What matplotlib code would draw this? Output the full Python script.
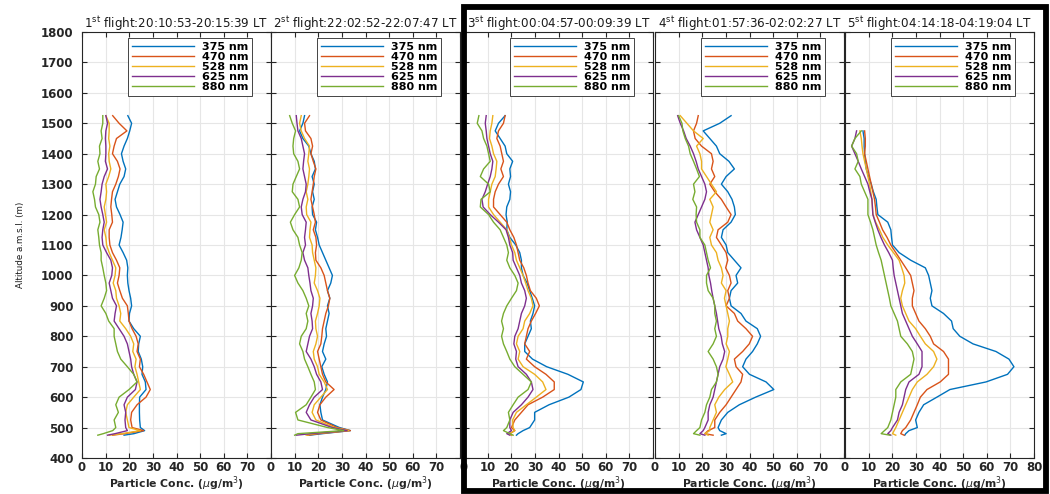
import matplotlib
matplotlib.use('Agg')
import matplotlib.pyplot as plt
from matplotlib.patches import Rectangle

# ---------------- data ----------------
wavelengths = ['375 nm', '470 nm', '528 nm', '625 nm', '880 nm']
colors = ['#0072BD', '#D95319', '#EDB120', '#7E2F8E', '#77AC30']
titles = [r'1$^{\mathrm{st}}$ flight:20:10:53-20:15:39 LT',
          r'2$^{\mathrm{st}}$ flight:22:02:52-22:07:47 LT',
          r'3$^{\mathrm{st}}$ flight:00:04:57-00:09:39 LT',
          r'4$^{\mathrm{st}}$ flight:01:57:36-02:02:27 LT',
          r'5$^{\mathrm{st}}$ flight:04:14:18-04:19:04 LT']

# altitude grid (m a.m.s.l.)
alt_a = [475, 480, 490, 500] + list(range(525, 1526, 25))   # flights 1-4
alt_5 = [475, 480, 490, 500] + list(range(525, 1476, 25))   # flight 5

p1_375 = [17.8, 22.0, 26.5, 24.7, 24.4, 24.3, 24.3, 24.4, 27.1, 26.8, 25.4, 25.7, 25.1, 23.8, 24.0, 24.7, 21.9, 19.9, 20.1, 21.0,
          20.6, 19.9, 19.4, 19.2, 19.4, 18.9, 17.4, 15.7, 16.5, 17.0, 17.4, 16.1, 14.6, 14.0, 15.0, 16.0, 17.8, 18.5, 17.4, 16.7,
          17.8, 19.2, 20.2, 21.0, 19.4]
p1_470 = [13.0, 18.0, 26.1, 21.2, 20.6, 21.0, 23.3, 27.1, 28.9, 27.5, 26.1, 24.3, 24.7, 23.3, 23.8, 22.9, 21.2, 19.9, 19.6, 19.2,
          17.1, 16.0, 15.0, 15.7, 16.0, 14.6, 12.9, 11.8, 11.5, 11.5, 12.9, 12.6, 12.2, 12.5, 12.9, 14.3, 15.4, 16.1, 15.0, 12.9,
          13.6, 14.6, 19.0, 15.7, 13.0]
p1_528 = [11.5, 17.0, 24.7, 19.9, 19.2, 18.5, 19.2, 21.9, 24.7, 24.0, 23.3, 22.4, 22.9, 21.5, 21.9, 20.6, 18.5, 16.0, 16.4, 15.7,
          14.6, 14.3, 13.2, 14.0, 14.3, 12.9, 11.5, 10.4, 10.1, 9.4, 10.4, 9.9, 9.4, 10.1, 10.4, 10.1, 11.3, 12.2, 11.5, 11.3,
          11.8, 11.3, 11.5, 11.5, 10.1]
p1_625 = [10.8, 14.0, 19.2, 18.5, 18.2, 18.5, 17.8, 19.2, 22.6, 23.3, 21.9, 21.0, 20.6, 19.9, 19.2, 17.8, 15.7, 13.6, 14.0, 14.6,
          12.9, 12.2, 11.5, 12.6, 12.9, 12.2, 10.4, 8.8, 8.5, 8.8, 9.4, 8.8, 8.1, 7.6, 8.1, 8.5, 9.4, 10.8, 9.9, 10.1,
          10.1, 9.9, 10.1, 10.8, 10.1]
p1_880 = [6.7, 9.0, 13.0, 14.3, 13.6, 15.4, 14.3, 15.7, 19.9, 23.3, 21.9, 19.2, 16.4, 15.0, 14.3, 13.6, 13.6, 11.3, 10.1, 8.1,
          9.4, 10.4, 10.1, 9.4, 8.8, 8.1, 8.1, 7.4, 7.1, 6.7, 7.6, 7.1, 5.7, 5.3, 4.6, 5.7, 6.0, 7.4, 6.7, 7.6,
          7.4, 8.5, 8.1, 8.8, 8.8]

p2_375 = [16.3, 21.8, 33.6, 29.0, 21.8, 21.1, 20.7, 21.8, 23.2, 23.9, 22.5, 21.5, 23.2, 21.8, 22.5, 23.5, 23.2, 23.9, 24.6, 23.9,
          24.9, 23.9, 25.3, 26.0, 24.6, 23.2, 21.8, 20.4, 19.7, 18.8, 19.3, 17.6, 17.4, 18.3, 17.6, 18.3, 17.4, 18.8, 18.3, 16.9,
          16.0, 13.5, 12.1, 13.5, 14.2]
p2_470 = [15.6, 20.4, 33.6, 28.0, 21.1, 19.7, 20.7, 23.2, 26.7, 23.2, 21.8, 21.1, 20.4, 19.7, 21.1, 21.5, 21.8, 22.5, 23.2, 24.3,
          24.9, 23.9, 23.2, 22.5, 21.1, 19.0, 18.8, 19.3, 19.0, 17.9, 18.8, 18.3, 17.6, 16.9, 17.4, 17.9, 18.3, 19.0, 17.9, 16.9,
          17.6, 16.9, 14.6, 14.2, 16.3]
p2_528 = [14.9, 18.3, 32.9, 27.0, 19.0, 17.4, 18.3, 21.1, 23.9, 22.5, 20.4, 19.7, 18.3, 17.9, 19.0, 19.7, 19.0, 18.8, 19.7, 20.4,
          20.7, 19.7, 18.3, 18.8, 19.0, 18.3, 17.6, 17.4, 16.3, 16.5, 16.9, 15.1, 14.9, 15.6, 14.9, 15.6, 16.0, 16.3, 15.6, 16.0,
          16.3, 14.2, 12.8, 12.1, 12.8]
p2_625 = [10.7, 16.9, 32.2, 26.0, 16.9, 14.9, 16.3, 18.3, 21.8, 21.1, 19.3, 18.3, 16.9, 14.9, 15.6, 16.3, 17.6, 17.4, 16.9, 17.6,
          17.9, 16.9, 16.5, 16.0, 15.6, 14.2, 13.5, 14.6, 14.2, 14.6, 14.9, 13.2, 12.8, 13.5, 14.6, 14.9, 14.2, 13.5, 13.8, 14.2,
          13.5, 12.8, 11.4, 11.0, 10.7]
p2_880 = [10.0, 11.4, 30.8, 24.0, 11.4, 10.4, 14.9, 16.9, 18.8, 18.3, 16.9, 15.6, 14.2, 13.5, 12.1, 12.8, 14.9, 15.6, 14.9, 16.0,
          14.9, 13.5, 11.4, 10.0, 11.8, 12.8, 13.2, 12.1, 11.4, 9.3, 8.2, 10.0, 12.1, 11.4, 9.0, 9.3, 10.7, 12.1, 11.4, 9.6,
          9.3, 9.6, 10.4, 9.0, 7.9]

p3_375 = [22.2, 22.9, 25.0, 27.8, 29.9, 29.9, 36.0, 44.4, 49.5, 50.5, 44.0, 35.0, 29.0, 25.7, 25.7, 27.1, 28.5, 28.1, 29.2, 29.9,
          28.9, 27.8, 26.7, 25.0, 24.3, 24.3, 23.6, 21.9, 19.4, 18.1, 18.3, 17.8, 18.1, 19.4, 19.7, 18.8, 19.7, 19.4, 20.6, 18.1,
          17.4, 15.3, 13.2, 14.6, 17.4]
p3_470 = [20.1, 19.4, 21.5, 20.1, 21.5, 24.3, 27.1, 33.3, 38.2, 38.2, 34.7, 29.9, 26.4, 27.8, 25.7, 26.4, 27.1, 28.5, 30.3, 31.9,
          30.6, 28.1, 27.1, 26.4, 25.3, 23.6, 22.9, 22.2, 21.1, 19.4, 18.1, 15.3, 12.5, 12.5, 13.2, 14.6, 16.7, 15.6, 16.7, 16.0,
          15.3, 13.9, 14.6, 16.7, 17.4]
p3_528 = [20.1, 19.4, 21.5, 20.8, 20.6, 22.2, 26.4, 30.6, 34.7, 33.3, 29.9, 25.0, 22.9, 23.6, 22.2, 22.9, 25.0, 25.7, 27.8, 29.2,
          28.5, 27.1, 26.1, 25.0, 23.6, 22.2, 21.5, 20.1, 19.2, 18.1, 15.3, 12.5, 10.4, 10.4, 11.1, 11.8, 13.2, 13.6, 13.9, 12.5,
          11.8, 10.8, 11.1, 11.8, 12.2]
p3_625 = [19.4, 18.1, 20.1, 19.4, 19.4, 20.8, 24.3, 27.1, 29.2, 28.5, 26.4, 22.9, 21.9, 22.2, 21.1, 21.5, 22.9, 23.6, 24.3, 25.7,
          26.4, 25.7, 24.3, 23.6, 22.2, 20.8, 20.6, 19.4, 18.8, 17.8, 14.6, 11.1, 8.1, 7.6, 9.0, 10.0, 11.1, 11.8, 12.2, 11.1,
          10.4, 9.7, 9.4, 9.0, 9.4]
p3_880 = [20.8, 19.4, 16.7, 18.1, 19.4, 18.8, 20.8, 22.9, 27.1, 28.5, 25.0, 21.5, 19.4, 18.1, 16.7, 15.9, 16.7, 15.9, 16.7, 18.1,
          20.1, 22.2, 22.9, 21.5, 19.4, 18.1, 18.8, 18.1, 16.7, 15.3, 12.5, 10.4, 6.9, 7.2, 11.1, 10.4, 6.9, 8.3, 11.1, 10.4,
          9.7, 8.3, 7.6, 5.6, 6.3]

p4_375 = [28.1, 30.1, 27.4, 26.7, 28.1, 30.8, 35.7, 42.6, 50.3, 47.0, 40.0, 37.1, 38.5, 41.3, 43.3, 44.7, 43.3, 38.5, 36.4, 32.2,
          31.5, 32.2, 35.0, 34.3, 36.4, 33.6, 30.8, 30.1, 28.1, 28.8, 32.2, 34.0, 33.6, 32.6, 30.8, 28.1, 30.1, 33.6, 31.3, 27.4,
          26.0, 23.2, 20.4, 27.4, 32.2]
p4_470 = [24.6, 21.1, 22.5, 25.3, 25.3, 27.4, 30.1, 32.2, 34.3, 36.4, 37.1, 34.3, 33.6, 37.1, 39.9, 41.3, 38.5, 35.0, 33.6, 30.1,
          31.5, 30.8, 32.2, 31.5, 29.9, 30.8, 30.1, 28.1, 26.0, 26.7, 30.8, 32.2, 30.1, 28.1, 25.3, 23.2, 25.3, 23.9, 24.6, 23.9,
          19.7, 17.0, 16.3, 17.6, 18.3]
p4_528 = [22.5, 21.1, 23.2, 23.2, 24.6, 26.0, 25.3, 27.0, 29.5, 32.9, 31.5, 30.0, 30.8, 31.5, 30.1, 30.8, 30.8, 31.5, 30.8, 30.1,
          29.4, 30.1, 28.1, 28.8, 28.1, 26.7, 26.0, 23.9, 23.2, 24.6, 23.2, 23.9, 24.6, 23.2, 26.0, 23.9, 21.8, 19.7, 19.7, 19.0,
          17.6, 20.4, 16.3, 13.5, 10.7]
p4_625 = [21.1, 19.0, 20.4, 21.1, 22.5, 22.5, 23.2, 24.6, 25.3, 26.0, 26.7, 27.4, 28.8, 29.5, 28.5, 28.0, 27.0, 26.5, 26.0, 25.3,
          24.6, 24.0, 23.5, 22.8, 22.5, 21.8, 21.1, 20.4, 19.0, 17.6, 16.9, 18.3, 19.7, 21.1, 21.8, 21.1, 19.7, 18.3, 17.4, 16.3,
          14.9, 13.2, 12.1, 10.7, 9.6]
p4_880 = [19.0, 16.3, 17.6, 19.0, 19.7, 21.1, 21.8, 23.2, 23.9, 26.0, 26.7, 26.0, 24.6, 22.5, 24.6, 26.0, 25.3, 26.0, 25.3, 25.3,
          24.6, 22.5, 21.8, 21.8, 23.5, 22.5, 21.8, 21.1, 19.0, 19.0, 17.6, 17.4, 17.6, 16.0, 16.9, 16.3, 18.8, 17.6, 16.3, 14.9,
          14.2, 12.8, 11.8, 11.4, 10.0]

p5_375 = [25.3, 25.7, 27.1, 30.6, 29.9, 31.3, 33.3, 38.9, 44.4, 59.7, 68.8, 71.5, 69.4, 63.9, 54.2, 48.6, 45.8, 45.1, 41.7, 36.8,
          36.1, 36.8, 36.1, 35.4, 34.0, 27.8, 22.9, 20.1, 19.7, 19.4, 18.1, 13.9, 13.5, 13.2, 12.0, 11.1, 10.0, 9.0, 8.6, 8.3,
          8.1, 8.1, 7.6]
p5_470 = [25.0, 23.6, 24.3, 25.7, 27.8, 29.2, 30.6, 31.9, 34.7, 40.3, 43.8, 43.8, 43.8, 41.7, 37.5, 36.1, 34.0, 31.3, 29.9, 28.5,
          28.5, 29.2, 28.5, 27.8, 25.7, 23.6, 21.5, 19.4, 17.8, 15.9, 14.6, 13.2, 12.9, 12.5, 11.8, 11.1, 10.4, 9.7, 9.0, 8.3,
          8.6, 8.6, 8.3]
p5_528 = [21.5, 20.1, 20.8, 21.5, 22.9, 24.3, 25.7, 27.1, 28.5, 30.6, 34.7, 37.5, 38.9, 37.5, 34.0, 31.9, 29.9, 27.1, 25.7, 24.3,
          23.6, 24.3, 25.3, 25.0, 24.0, 22.9, 20.5, 18.1, 16.0, 14.6, 13.0, 11.8, 11.6, 11.4, 10.9, 10.4, 9.7, 9.0, 8.3, 7.6,
          7.2, 6.9, 6.3]
p5_625 = [19.4, 18.1, 19.4, 20.1, 22.2, 22.9, 24.3, 25.0, 25.7, 27.1, 31.3, 32.6, 32.6, 32.6, 30.6, 28.5, 27.1, 25.7, 24.3, 23.6,
          22.9, 22.2, 21.5, 20.8, 20.4, 20.1, 18.5, 16.7, 15.2, 13.9, 12.8, 11.8, 11.6, 11.4, 10.5, 9.7, 8.3, 6.9, 5.6, 4.2,
          2.8, 4.2, 4.9]
p5_880 = [19.0, 15.3, 16.7, 18.1, 19.4, 20.1, 20.8, 21.5, 21.5, 23.6, 27.8, 28.5, 29.2, 28.5, 26.4, 23.6, 22.9, 22.2, 20.8, 19.4,
          18.8, 18.1, 17.4, 16.7, 16.0, 15.3, 14.2, 13.2, 12.5, 11.8, 10.8, 9.7, 9.7, 9.7, 8.3, 6.9, 6.3, 4.2, 5.6, 4.9,
          2.8, 4.2, 6.9]

flights = [
    (alt_a, [p1_375, p1_470, p1_528, p1_625, p1_880]),
    (alt_a, [p2_375, p2_470, p2_528, p2_625, p2_880]),
    (alt_a, [p3_375, p3_470, p3_528, p3_625, p3_880]),
    (alt_a, [p4_375, p4_470, p4_528, p4_625, p4_880]),
    (alt_5, [p5_375, p5_470, p5_528, p5_625, p5_880]),
]

xticks = [0, 10, 20, 30, 40, 50, 60, 70, 80]
yticks = list(range(400, 1801, 100))

# ---------------- figure ----------------
plt.rcParams['font.family'] = ['DejaVu Sans']
W, H = 1050, 494
fig = plt.figure(figsize=(W / 100, H / 100), dpi=100)

panel_left = [82, 271, 464, 655, 845]
panel_w = 189
ax_bottom, ax_top = 458, 32
axis_col = '#262626'

for i, (alts, series) in enumerate(flights):
    ax = fig.add_axes([panel_left[i] / W, 1 - ax_bottom / H, panel_w / W, (ax_bottom - ax_top) / H])
    for vals, c, lab in zip(series, colors, wavelengths):
        ax.plot(vals, alts, color=c, lw=1.0, label=lab)
    ax.set_xlim(0, 80)
    ax.set_ylim(400, 1800)
    ax.set_xticks(xticks)
    ax.set_yticks(yticks)
    if i < 4:
        ax.set_xticklabels([str(t) for t in xticks[:-1]] + [''])
    else:
        ax.set_xticklabels([str(t) for t in xticks])
    ax.grid(True, color='#e6e6e6', lw=0.8)
    ax.set_axisbelow(True)
    ax.tick_params(direction='in', top=True, right=True, length=3.5, width=0.8,
                   color=axis_col, labelsize=8.5, pad=2.5)
    ax.tick_params(axis='y', pad=6)
    if i > 0:
        ax.tick_params(axis='y', labelleft=False)
    for lbl in ax.get_xticklabels() + ax.get_yticklabels():
        lbl.set_fontweight('bold')
        lbl.set_color('#262626')
    for sp in ax.spines.values():
        sp.set_color(axis_col)
        sp.set_linewidth(0.8)
    ax.set_xlabel(r'Particle Conc. ($\mu$g/m$^3$)', fontsize=7.8, fontweight='bold',
                  labelpad=0, color='#262626')
    ax.set_title(titles[i], fontsize=8.6, pad=3.0, color='#1a1a1a')
    leg = ax.legend(loc='upper right', bbox_to_anchor=(0.90, 0.986),
                    prop={'weight': 'bold', 'size': 8},
                    handlelength=5.6, handletextpad=0.7, labelspacing=0.0,
                    borderpad=0.35, borderaxespad=0.0, fancybox=False,
                    framealpha=1, edgecolor='#262626')
    leg.get_frame().set_linewidth(0.6)

fig.text(21 / W, 1 - 245 / H, 'Altitude a.m.s.l. (m)', rotation=90,
         family=['Liberation Sans Narrow', 'DejaVu Sans'], fontsize=6.3,
         ha='center', va='center', color='#1a1a1a')

# black box around flights 3-5
rect = Rectangle((464 / W, 1 - 491 / H), (1046 - 464) / W, (491 - 7) / H,
                 transform=fig.transFigure, fill=False, ec='black', lw=4.2, zorder=20)
fig.add_artist(rect)

fig.savefig('out.png', dpi=100)
